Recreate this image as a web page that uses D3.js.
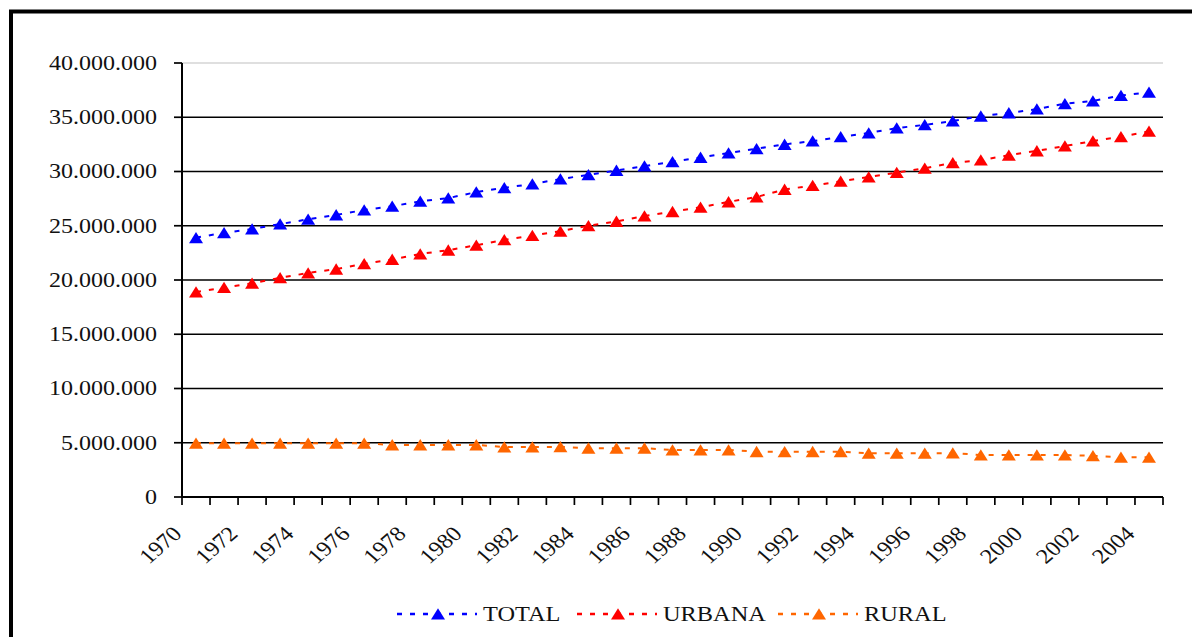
<!DOCTYPE html>
<html>
<head>
<meta charset="utf-8">
<script src="https://cdn.jsdelivr.net/npm/d3@7"></script>
<style>
  html, body { margin: 0; padding: 0; background: #fff; }
  svg { display: block; }
  text { font-family: "Liberation Serif", "Times New Roman", serif; fill: #111; }
</style>
</head>
<body>
<svg id="chart" width="1192" height="637"></svg>
<script>
// Population by year (inhabitants)
const years = d3.range(1970, 2005);
const total = [
  23.9, 24.35, 24.7, 25.15, 25.6, 26.0, 26.45, 26.8, 27.25, 27.55,
  28.1, 28.5, 28.85, 29.3, 29.7, 30.1, 30.5, 30.9, 31.3, 31.7,
  32.1, 32.5, 32.8, 33.2, 33.55, 34.0, 34.3, 34.65, 35.1, 35.4,
  35.75, 36.25, 36.5, 37.0, 37.3
].map(v => v * 1e6);
const urbana = [
  18.9, 19.3, 19.7, 20.2, 20.65, 21.0, 21.5, 21.9, 22.4, 22.75,
  23.2, 23.7, 24.1, 24.5, 25.0, 25.4, 25.9, 26.3, 26.7, 27.2,
  27.65, 28.35, 28.7, 29.1, 29.5, 29.9, 30.3, 30.8, 31.05, 31.5,
  31.9, 32.35, 32.8, 33.2, 33.7
].map(v => v * 1e6);
const rural = [
  4.95, 4.95, 4.95, 4.95, 4.95, 4.95, 4.95, 4.8, 4.8, 4.8,
  4.8, 4.6, 4.6, 4.62, 4.5, 4.5, 4.5, 4.33, 4.33, 4.33,
  4.18, 4.16, 4.18, 4.18, 4.03, 4.03, 4.03, 4.05, 3.87, 3.87,
  3.87, 3.87, 3.8, 3.66, 3.66
].map(v => v * 1e6);
const yTicks = [0, 5e6, 10e6, 15e6, 20e6, 25e6, 30e6, 35e6, 40e6];
const seriesNames = ["TOTAL", "URBANA", "RURAL"];
const seriesColors = ["#0000ff", "#ff0000", "#ff6600"];
const seriesValues = [total, urbana, rural];

const svg = d3.select("#chart");
const plot = { left: 182, right: 1163, top: 63, bottom: 497 };

const x = d3.scaleBand().domain(years).range([plot.left, plot.right]).padding(0);
const y = d3.scaleLinear().domain([0, 40e6]).range([plot.bottom, plot.top]);
const cx = d => x(d) + x.bandwidth() / 2;

const fmt = d3.formatLocale({ decimal: ",", thousands: ".", grouping: [3], currency: ["", ""] }).format(",");

// Outer frame
svg.append("rect")
  .attr("x", 11).attr("y", 11.5).attr("width", 1400).attr("height", 800)
  .attr("fill", "none").attr("stroke", "#000").attr("stroke-width", 4);

// Horizontal gridlines
svg.append("g").selectAll("line").data(yTicks.filter(t => t > 0)).join("line")
  .attr("x1", plot.left).attr("x2", plot.right)
  .attr("y1", d => y(d)).attr("y2", d => y(d))
  .attr("stroke", d => d === 40e6 ? "#d4d4d4" : "#000")
  .attr("stroke-width", d => d === 40e6 ? 1.5 : 1.7);

// Y axis
const yAxis = svg.append("g");
yAxis.append("line")
  .attr("x1", plot.left).attr("x2", plot.left)
  .attr("y1", plot.top).attr("y2", plot.bottom)
  .attr("stroke", "#000").attr("stroke-width", 2);
yAxis.selectAll("line.tick").data(yTicks).join("line").attr("class", "tick")
  .attr("x1", plot.left - 8).attr("x2", plot.left)
  .attr("y1", d => y(d)).attr("y2", d => y(d))
  .attr("stroke", "#000").attr("stroke-width", 1.7);
yAxis.selectAll("text").data(yTicks).join("text")
  .attr("transform", d => `translate(${plot.left - 25},${y(d)}) scale(1.2,1)`)
  .attr("text-anchor", "end").attr("dy", "0.34em")
  .style("font-size", "20px")
  .text(d => fmt(d));

// X axis with ticks on category boundaries
const xAxis = svg.append("g");
xAxis.append("line")
  .attr("x1", plot.left).attr("x2", plot.right)
  .attr("y1", plot.bottom).attr("y2", plot.bottom)
  .attr("stroke", "#000").attr("stroke-width", 2);
const boundaries = years.map(d => x(d)).concat([x.range()[1]]);
xAxis.selectAll("line.tick").data(boundaries).join("line").attr("class", "tick")
  .attr("x1", d => d).attr("x2", d => d)
  .attr("y1", plot.bottom).attr("y2", plot.bottom + 8)
  .attr("stroke", "#000").attr("stroke-width", 1.7);
xAxis.selectAll("text").data(years.filter((d, i) => i % 2 === 0)).join("text")
  .attr("transform", d => `translate(${cx(d) - 13},${plot.bottom + 38}) scale(1.15,1) rotate(-45)`)
  .attr("text-anchor", "end")
  .style("font-size", "21px")
  .text(d => d);

// Series: dashed lines with triangle markers
const tri = "M0,-5.8L7,5.5L-7,5.5Z";
const line = d3.line().x(d => cx(d.year)).y(d => y(d.value));
seriesValues.forEach((vals, s) => {
  const pts = years.map((yr, i) => ({ year: yr, value: vals[i] }));
  const g = svg.append("g");
  g.append("path").datum(pts)
    .attr("d", line)
    .attr("fill", "none")
    .attr("stroke", seriesColors[s])
    .attr("stroke-width", 2)
    .attr("stroke-dasharray", "5,8");
  g.selectAll("path.marker").data(pts).join("path").attr("class", "marker")
    .attr("d", tri)
    .attr("transform", d => `translate(${cx(d.year)},${y(d.value)})`)
    .attr("fill", seriesColors[s]);
});

// Legend
const legendX = [397, 577, 778];
const legendY = 614;
seriesNames.forEach((name, s) => {
  const g = svg.append("g").attr("transform", `translate(${legendX[s]},${legendY})`);
  g.append("line").attr("x1", 0).attr("x2", 80).attr("y1", 0).attr("y2", 0)
    .attr("stroke", seriesColors[s]).attr("stroke-width", 2.5)
    .attr("stroke-dasharray", "5,8");
  g.append("path").attr("d", tri).attr("transform", "translate(41,0)").attr("fill", seriesColors[s]);
  g.append("text")
    .attr("transform", "translate(86,7) scale(1.16,1)")
    .style("font-size", "21px")
    .text(name);
});
</script>
</body>
</html>
